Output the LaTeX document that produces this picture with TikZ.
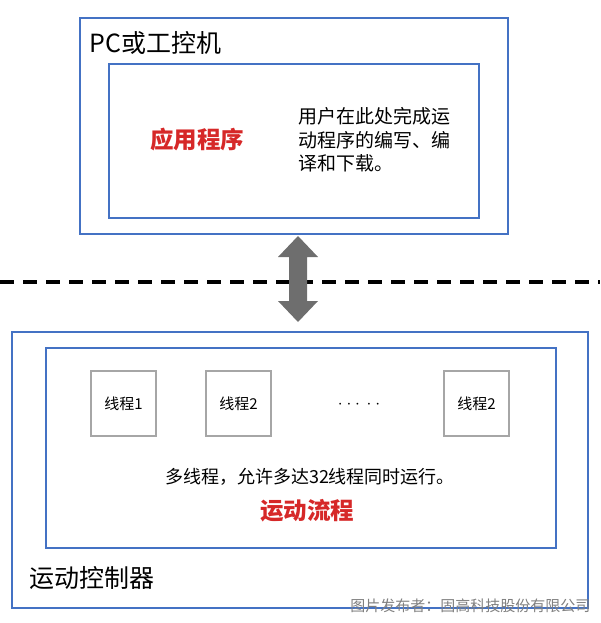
\documentclass[tikz,border=0pt]{standalone}
\usepackage{fontspec}
\newfontfamily\cjk{Noto Sans CJK SC}
\definecolor{bl}{RGB}{68,114,196}
\definecolor{rd}{RGB}{214,40,40}
\definecolor{ar}{RGB}{110,110,110}
\begin{document}
\begin{tikzpicture}[x=1pt,y=-1pt,font=\cjk,
  bbox/.style={draw=bl,line width=2pt},
  tbox/.style={draw=gray!70,line width=1.2pt,fill=white,minimum size=65pt,inner sep=0pt,font=\cjk\fontsize{15}{17}\selectfont}]
\useasboundingbox (0,0) rectangle (600,623);
\draw[bbox] (80,18) rectangle (508,234);
\draw[bbox] (109,64) rectangle (479,218);
\node[anchor=west,font=\cjk\fontsize{25}{28}\selectfont] (pc) at (86,43) {PC或工控机};
\node[font=\cjk\bfseries\fontsize{23.5}{26}\selectfont,text=rd] (app) at (197,140) {应用程序};
\node[anchor=west,align=left,font=\cjk\fontsize{19}{23.5}\selectfont] (desc) at (295,140) {用户在此处完成运\\动程序的编写、编\\译和下载。};
\draw[line width=4pt,dash pattern=on 14pt off 9pt] (0,282) -- (600,282);
\fill[ar] (298,236) -- (318,257) -- (307,257) -- (307,301) -- (318,301) -- (298,322) -- (278,301) -- (289,301) -- (289,257) -- (278,257) -- cycle;
\draw[bbox] (12,332) rectangle (588,608);
\draw[bbox] (46,348) rectangle (556,548);
\node[tbox] (t1) at (123.5,403.5) {线程1};
\node[tbox] (t2) at (238.5,403.5) {线程2};
\node[tbox] (t3) at (476.5,403.5) {线程2};
\node[font=\fontsize{18}{20}\selectfont] (dots) at (359,405) {$\cdot\cdot\cdot\,\cdot\cdot$};
\node[font=\cjk\fontsize{18}{20}\selectfont] (mt) at (310,477) {多线程，允许多达32线程同时运行。};
\node[font=\cjk\bfseries\fontsize{23.5}{26}\selectfont,text=rd] (flow) at (307,511) {运动流程};
\node[anchor=west,font=\cjk\fontsize{25}{28}\selectfont] (mc) at (26,578) {运动控制器};
\node[anchor=east,text=gray,font=\cjk\fontsize{15}{17}\selectfont] (pub) at (594,606) {图片发布者：固高科技股份有限公司};
\end{tikzpicture}
\end{document}
